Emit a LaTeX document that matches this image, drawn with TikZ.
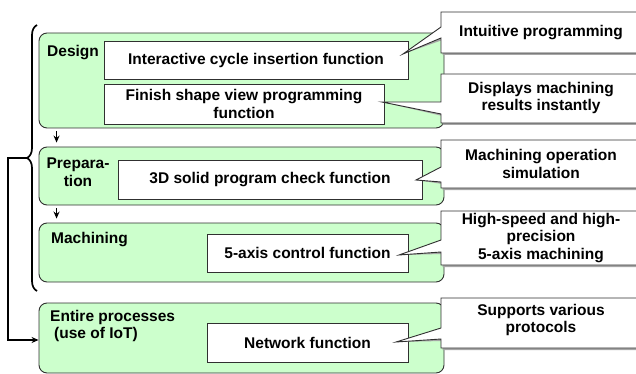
\documentclass[tikz,border=0pt]{standalone}
\usepackage{fontspec}
\setmainfont{Liberation Sans}
\usetikzlibrary{decorations.pathreplacing,arrows.meta,calc}
\definecolor{grpgreen}{HTML}{CCFFCC}
\definecolor{edge}{HTML}{303030}
\begin{document}
\begin{tikzpicture}[x=1pt,y=-1pt,
  font=\fontsize{15.5}{17.5}\selectfont\bfseries,
  grp/.style={draw=edge, fill=grpgreen, rounded corners=8pt, line width=0.9pt, minimum width=405pt, inner sep=0pt},
  fbox/.style={draw=edge, fill=white, line width=0.9pt, align=center, inner sep=0pt},
  lbl/.style={inner sep=0pt},
  callout/.style={draw=edge, fill=white, line width=0.9pt, line join=miter},
  cshadow/.style={fill=gray!70},
  ctext/.style={align=center, inner sep=0pt},
  arr/.style={-{Stealth[length=7pt,width=6pt]}, line width=1.1pt, draw=black},
  bracestyle/.style={decorate, decoration={brace, amplitude=10pt}, line width=1.7pt}]
\useasboundingbox (0,0) rectangle (636,374);
\clip (0,0) rectangle (636,374);
% groups
\node[grp, minimum height=95pt] (design) at (241.5,80.5) {};
\node[grp, minimum height=58pt] (prep) at (241.5,176) {};
\node[grp, minimum height=59pt] (mach) at (241.5,252.5) {};
\node[grp, minimum height=70pt] (entire) at (241.5,338) {};
% group labels
\node[lbl, anchor=base west] (ldesign) at (47,57) {Design};
\node[lbl, align=center] (lprep) at (78,172) {Prepara-\\tion};
\node[lbl, anchor=base west] (lmach) at (51,243) {Machining};
\node[lbl, align=left, anchor=north west] (lentire) at (50,310) {Entire processes\\\hspace*{4pt}(use of IoT)};
% function boxes
\node[fbox, minimum width=304pt, minimum height=38pt] (b1) at (256,60) {Interactive cycle insertion function};
\node[fbox, minimum width=280pt, minimum height=40pt] (b2) at (244,104) {Finish shape view programming\\function};
\node[fbox, minimum width=304pt, minimum height=39pt] (b3) at (270,179.5) {3D solid program check function};
\node[fbox, minimum width=201pt, minimum height=38pt] (b4) at (307.5,253) {5-axis control function};
\node[fbox, minimum width=201pt, minimum height=39pt] (b5) at (307.5,342.5) {Network function};
% callout tips
\coordinate (t1) at (403,54);
\coordinate (t2) at (382,102);
\coordinate (t3) at (416,180);
\coordinate (t4) at (399,255);
\coordinate (t5) at (396,342);
% callouts
\foreach \s/\tp/\ba/\tip/\bb/\bt in {cshadow/12/27/t1/38/53, cshadow/74/102/t2/114/123, cshadow/140/167/t3/182/188, cshadow/211/240/t4/252/265, cshadow/298/328/t5/339/348}{
  \fill[\s, shift={(1.5,2)}] (441,\tp) -- (441,\ba) -- (\tip) -- (441,\bb) -- (441,\bt) -- (660,\bt) -- (660,\tp) -- cycle;
  \draw[callout] (441,\tp) -- (441,\ba) -- (\tip) -- (441,\bb) -- (441,\bt) -- (660,\bt) -- (660,\tp) -- cycle;
}
\node[ctext] (c1) at (541,32.5) {Intuitive programming};
\node[ctext] (c2) at (541,98) {Displays machining\\results instantly};
\node[ctext] (c3) at (541,164) {Machining operation\\simulation};
\node[ctext] (c4) at (541,238) {High-speed and high-\\precision\\5-axis machining};
\node[ctext] (c5) at (541,320) {Supports various\\protocols};
% flow arrows
\draw[arr] ($(design.south west)+(18,3)$) -- ($(prep.north west)+(18,-4)$);
\draw[arr] ($(prep.south west)+(18,3)$) -- ($(mach.north west)+(18,-4)$);
% brace
\draw[bracestyle] (37,291) -- (37,25);
\coordinate (btip) at (27,158);
\draw[arr] (btip) -- ++(-19,0) |- ($(entire.west)+(0,2)$);
\end{tikzpicture}
\end{document}
